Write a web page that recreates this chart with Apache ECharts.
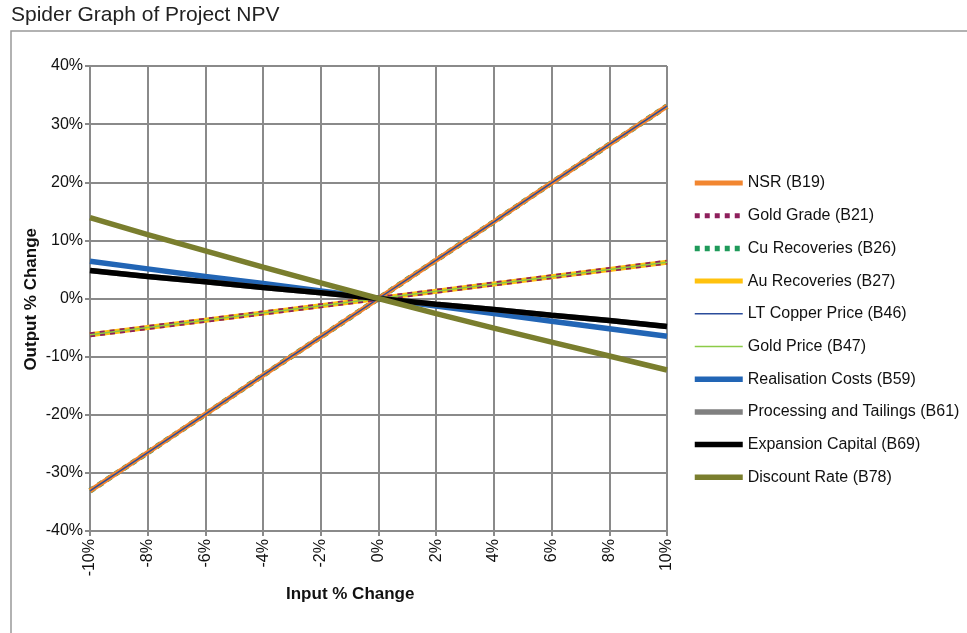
<!DOCTYPE html>
<html>
<head>
<meta charset="utf-8">
<script src="https://cdn.jsdelivr.net/npm/echarts@6/dist/echarts.min.js"></script>
<style>html,body{margin:0;padding:0;background:#fff;}#c{width:967px;height:633px;}</style>
</head>
<body>
<div id="c"></div>
<script>
const inputPct = [-10, -8, -6, -4, -2, 0, 2, 4, 6, 8, 10];
const yTicks = [-40, -30, -20, -10, 0, 10, 20, 30, 40];
const seriesNames = ['NSR (B19)', 'Gold Grade (B21)', 'Cu Recoveries (B26)', 'Au Recoveries (B27)', 'LT Copper Price (B46)', 'Gold Price (B47)', 'Realisation Costs (B59)', 'Processing and Tailings (B61)', 'Expansion Capital (B69)', 'Discount Rate (B78)'];
const nsr          = [-33.1, -26.5, -19.9, -13.2, -6.6, 0, 6.6, 13.2, 19.9, 26.5, 33.1];
const goldGrade    = [-6.25, -5.0, -3.75, -2.5, -1.25, 0, 1.25, 2.5, 3.75, 5.0, 6.25];
const cuRecoveries = [-33.1, -26.5, -19.9, -13.2, -6.6, 0, 6.6, 13.2, 19.9, 26.5, 33.1];
const auRecoveries = [-6.25, -5.0, -3.75, -2.5, -1.25, 0, 1.25, 2.5, 3.75, 5.0, 6.25];
const ltCopper     = [-33.1, -26.5, -19.9, -13.2, -6.6, 0, 6.6, 13.2, 19.9, 26.5, 33.1];
const goldPrice    = [-6.25, -5.0, -3.75, -2.5, -1.25, 0, 1.25, 2.5, 3.75, 5.0, 6.25];
const realisation  = [6.4, 5.1, 3.8, 2.6, 1.3, 0, -1.3, -2.6, -3.9, -5.2, -6.5];
const processing   = [4.8, 3.8, 2.9, 1.9, 1.0, 0, -1.0, -1.9, -2.9, -3.8, -4.8];
const expansion    = [4.8, 3.8, 2.9, 1.9, 1.0, 0, -1.0, -1.9, -2.9, -3.8, -4.8];
const discountRate = [13.9, 11.0, 8.2, 5.4, 2.7, 0, -2.6, -5.1, -7.5, -9.9, -12.3];

const values = [nsr, goldGrade, cuRecoveries, auRecoveries, ltCopper, goldPrice, realisation, processing, expansion, discountRate];
const colors = ['#F28630', '#8E1F5C', '#1F9A5A', '#FFC20E', '#2B4C9B', '#8CCB47', '#2265B5', '#808080', '#000000', '#7A7E2E'];
const widths = [5, 5, 5.5, 5, 1.5, 1.5, 5.5, 5.5, 5.5, 5.5];
const types  = ['solid', [5, 5], [5, 5], 'solid', 'solid', 'solid', 'solid', 'solid', 'solid', 'solid'];
const zs     = [3, 3, 2, 2, 4, 4, 5, 5, 6, 7];

const font = 'Arial, "Liberation Sans", Helvetica, sans-serif';
const gridColor = '#8A8A8A';

const series = seriesNames.map((name, i) => ({
  name: name,
  type: 'line',
  data: inputPct.map((x, j) => [x, values[i][j]]),
  symbol: 'none',
  z: zs[i],
  color: colors[i],
  itemStyle: { color: colors[i] },
  lineStyle: { color: colors[i], width: widths[i], type: types[i], cap: 'butt' },
  emphasis: { disabled: true },
  animation: false
}));

const chart = echarts.init(document.getElementById('c'), null, { renderer: 'canvas' });
chart.setOption({
  backgroundColor: '#fff',
  animation: false,
  grid: { left: 90, right: 300, top: 66, bottom: 102, containLabel: false },
  xAxis: {
    type: 'value', min: -10, max: 10, interval: 2,
    axisLine: { show: true, onZero: false, lineStyle: { color: gridColor, width: 2 } },
    axisTick: { show: true, length: 5, lineStyle: { color: gridColor, width: 2 } },
    splitLine: { show: true, lineStyle: { color: gridColor, width: 2 } },
    axisLabel: { rotate: 90, margin: 8, color: '#111', fontSize: 16, fontFamily: font, formatter: v => v + '%' }
  },
  yAxis: {
    type: 'value', min: yTicks[0], max: yTicks[yTicks.length - 1], interval: 10,
    axisLine: { show: true, onZero: false, lineStyle: { color: gridColor, width: 2 } },
    axisTick: { show: true, length: 5, lineStyle: { color: gridColor, width: 2 } },
    splitLine: { show: true, lineStyle: { color: gridColor, width: 2 } },
    axisLabel: { margin: 7, color: '#111', fontSize: 16, fontFamily: font, formatter: v => v + '%' }
  },
  legend: {
    orient: 'vertical', left: 687, top: 170,
    itemWidth: 48, itemHeight: 16, itemGap: 16.7,
    itemStyle: { opacity: 0 },
    lineStyle: { width: 'inherit' },
    textStyle: { color: '#111', fontSize: 16, fontFamily: font },
    data: seriesNames,
    selectedMode: false
  },
  graphic: [
    { type: 'rect', shape: { x: 11, y: 31, width: 1000, height: 700 }, style: { fill: 'none', stroke: '#999', lineWidth: 1.5 }, z: -1 },
    { type: 'text', left: 11, top: 5, style: { text: 'Spider Graph of Project NPV', fill: '#222', font: '21px ' + font } },
    { type: 'text', left: 286, top: 586, style: { text: 'Input % Change', fill: '#111', font: 'bold 17px ' + font } },
    { type: 'text', left: 23, top: 228, rotation: Math.PI / 2, style: { text: 'Output % Change', fill: '#111', font: 'bold 17px ' + font } }
  ],
  series: series
});
</script>
</body>
</html>
